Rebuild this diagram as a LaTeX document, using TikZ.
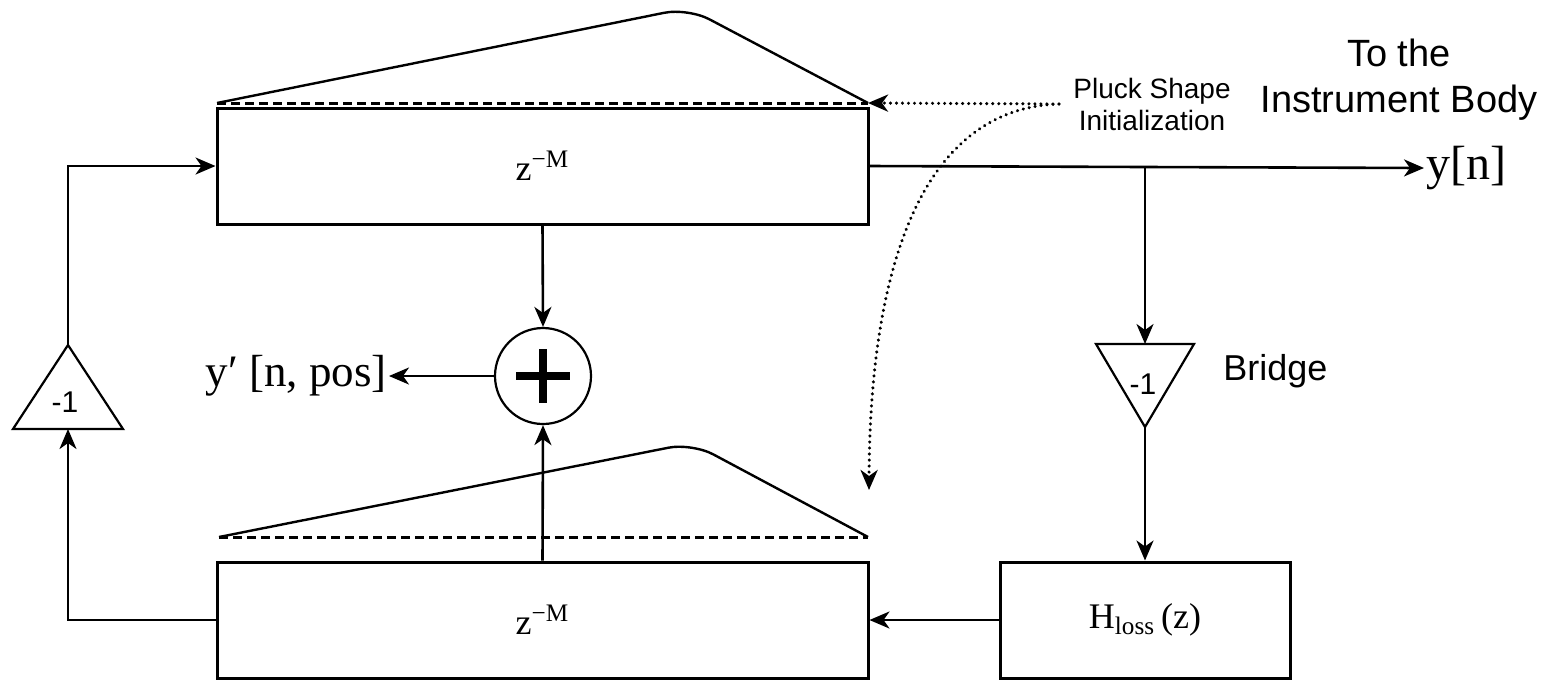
\documentclass[tikz,border=0pt]{standalone}
\usepackage{fontspec}
\setmainfont{Liberation Serif}
\newfontfamily\sansf{Liberation Sans}
\usetikzlibrary{arrows.meta}
\begin{document}
\begin{tikzpicture}[x=0.5pt,y=-0.5pt,
  blk/.style={draw, line width=1.5pt, minimum width=#1, minimum height=58pt, inner sep=0pt, font=\fontsize{18}{22}\selectfont},
  tip/.style={-{Stealth[length=10pt,width=8.5pt,inset=3pt]}},
  conn/.style={line width=1.3pt, tip},
  dotc/.style={line width=1.7pt, dash pattern=on 0.01pt off 3pt, line cap=round, tip},
  dashl/.style={line width=1.5pt, dash pattern=on 4.5pt off 2.5pt},
  shapel/.style={line width=1.2pt, rounded corners=12pt},
  tri/.style={draw, line width=1.1pt, line join=miter}
]
\useasboundingbox (0,0) rectangle (1551,682);
\fill[white] (0,0) rectangle (1551,682);

% boxes
\node[blk=325.5pt] (top) at (542.5,166) {z\textsuperscript{\char"2212M}};
\node[blk=325.5pt] (bot) at (542.5,620) {z\textsuperscript{\char"2212M}};
\node[blk=145pt] (hl) at (1145,620) {H\textsubscript{loss}\,(z)};

% summing junction
\node[circle, draw, line width=1.1pt, minimum size=48pt, inner sep=0pt] (sum) at (543,376) {};
\draw[line width=4pt] (sum.center) +(-27,0) -- +(27,0);
\draw[line width=4pt] (sum.center) +(0,-27) -- +(0,27);

% triangles
\coordinate (lta) at (68,345);
\coordinate (ltb) at (68,429);
\draw[tri] (lta) -- (123,429) -- (13,429) -- cycle;
\node[font=\sansf\fontsize{15}{18}\selectfont] (m1) at (65,402) {-1};

\coordinate (rta) at (1145,344);
\coordinate (rtb) at (1145,427);
\draw[tri] (1096,344) -- (1194,344) -- (rtb) -- cycle;
\node[font=\sansf\fontsize{15}{18}\selectfont] (m2) at (1143,384) {-1};
\node[font=\sansf\fontsize{18}{22}\selectfont, anchor=base west, inner sep=0pt] (bridge) at (1223,380) {Bridge};

% labels
\node[font=\fontsize{22.5}{26}\selectfont, anchor=east, inner sep=1pt] (yp) at (389,376) {y′ [n, pos]};
\node[font=\fontsize{24}{28}\selectfont, anchor=west, inner sep=1pt] (yn) at (1424,168) {y[n]};
\node[font=\sansf\fontsize{14}{16}\selectfont, align=center, inner sep=7pt] (pluck) at (1152,104) {Pluck Shape\\Initialization};
\node[font=\sansf\fontsize{19}{23}\selectfont, align=center] (body) at (1399,80) {To the\\Instrument Body};

% connectors
\coordinate (br) at (1145,166);
\draw[conn] (top.east) -- (yn.west);
\draw[conn] (br) -- (rta);
\draw[conn] (rtb) -- (hl.north);
\draw[conn] (hl.west) -- (bot.east);
\draw[conn] (top.south) -- (sum.north);
\draw[conn] (bot.north) -- (sum.south);
\draw[conn] (sum.west) -- (yp.east);
\draw[conn] (bot.west) -| (ltb);
\draw[conn] (lta) |- (top.west);

% pluck shapes
\draw[dashl] (217,103) -- (868,103);
\draw[shapel] (217,103) -- (688,8) -- (868,103);
\draw[dashl] (219,537) -- (868,537);
\draw[shapel] (219,537) -- (692,443) -- (868,537);

% pluck arrows
\coordinate (ptop) at (868,103);
\coordinate (pbot) at (869,490);
\draw[dotc] (pluck.west) -- (ptop);
\draw[dotc] (pluck.west) .. controls (930,108) and (870,250) .. (pbot);
\end{tikzpicture}
\end{document}
